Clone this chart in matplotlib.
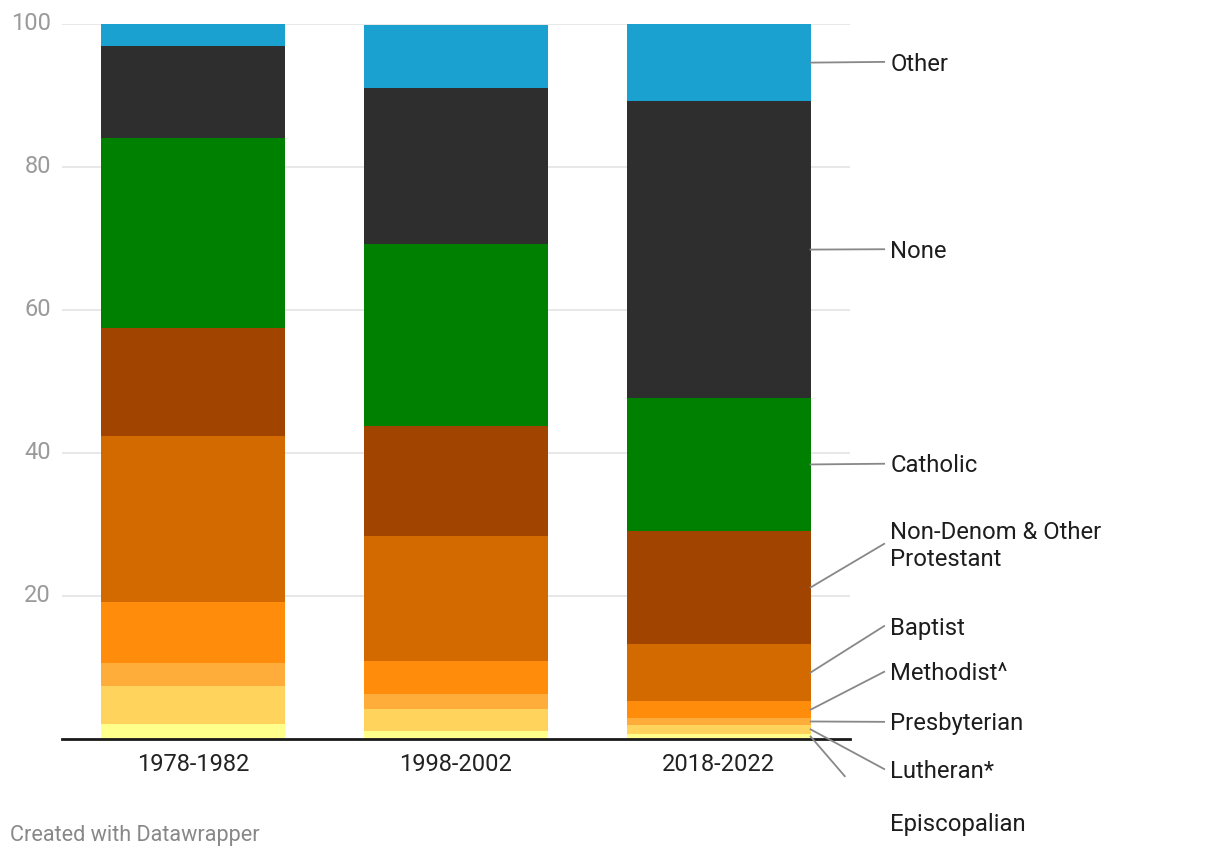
import matplotlib.pyplot as plt

plt.rcParams["font.family"] = ["Roboto", "DejaVu Sans"]

periods = ["1978-1982", "1998-2002", "2018-2022"]
groups = ["Episcopalian", "Lutheran*", "Presbyterian", "Methodist^", "Baptist",
          "Non-Denom & Other\nProtestant", "Catholic", "None", "Other"]
episcopalian = [2.1, 1.1, 0.7]
lutheran = [5.3, 3.1, 1.3]
presbyterian = [3.2, 2.1, 0.9]
methodist = [8.6, 4.6, 2.4]
baptist = [23.2, 17.5, 8.0]
nondenom = [15.1, 15.4, 15.8]
catholic = [26.6, 25.4, 18.6]
none = [12.8, 21.8, 41.5]
other = [3.2, 8.9, 10.8]
series = [episcopalian, lutheran, presbyterian, methodist, baptist,
          nondenom, catholic, none, other]
colors = ["#ffff8c", "#ffd35c", "#ffad3a", "#ff8c0b", "#d36a00",
          "#a04400", "#008000", "#2e2e2e", "#1aa1cf"]
# label heights at the right side (layout only)
label_y = [-11.9, -4.5, 2.1, 9.1, 15.5, 27.0, 38.2, 68.2, 94.4]

fig = plt.figure(figsize=(12.2, 8.6), dpi=100)
ax = fig.add_axes([62 / 1220, 1 - 739 / 860, 788 / 1220, 715 / 860])

x = range(len(periods))
bottom = [0.0] * len(periods)
for vals, col in zip(series, colors):
    ax.bar(x, vals, width=0.7, bottom=bottom, color=col, zorder=2)
    bottom = [b + v for b, v in zip(bottom, vals)]

ax.set_xlim(-0.5, 2.5)
ax.set_ylim(0, 100)
ax.set_yticks([20, 40, 60, 80, 100])
ax.grid(axis="y", color="#e6e6e6", lw=1.3, zorder=0)
for s in ["left", "right", "top"]:
    ax.spines[s].set_visible(False)
ax.spines["bottom"].set_color("#1a1a1a")
ax.spines["bottom"].set_linewidth(2)
ax.spines["bottom"].set_zorder(3)
ax.tick_params(axis="y", length=0, labelsize=17, labelcolor="#9a9a9a", pad=8)
ax.tick_params(axis="x", length=0, labelsize=17, labelcolor="#222222", pad=10)
ax.set_xticks(list(x))
ax.set_xticklabels(periods)
for lab in ax.get_yticklabels():
    lab.set_verticalalignment("center")

# direct labels with leader lines from last bar
last = len(periods) - 1
x0, x1, xt = 2.35, 2.63, 2.654
clip_y = -5.2
base = 0.0
for name, vals, ly in zip(groups, series, label_y):
    mid = base + vals[last] / 2
    base += vals[last]
    ex, ey = x1, ly + 0.3
    if ey < clip_y:
        t = (mid - clip_y) / (mid - ey)
        ex, ey = x0 + t * (x1 - x0), clip_y
    ax.plot([x0, ex], [mid, ey], color="#888888", lw=1.3, clip_on=False, zorder=4)
    ax.text(xt, ly, name, fontsize=17.2, color="#1d1d1d", va="center", ha="left",
            linespacing=1.2, clip_on=False)

fig.text(10 / 1220, 1 - 835 / 860, "Created with Datawrapper", fontsize=15.6,
         color="#888888", va="center", ha="left")

fig.savefig("out.png", dpi=100)
